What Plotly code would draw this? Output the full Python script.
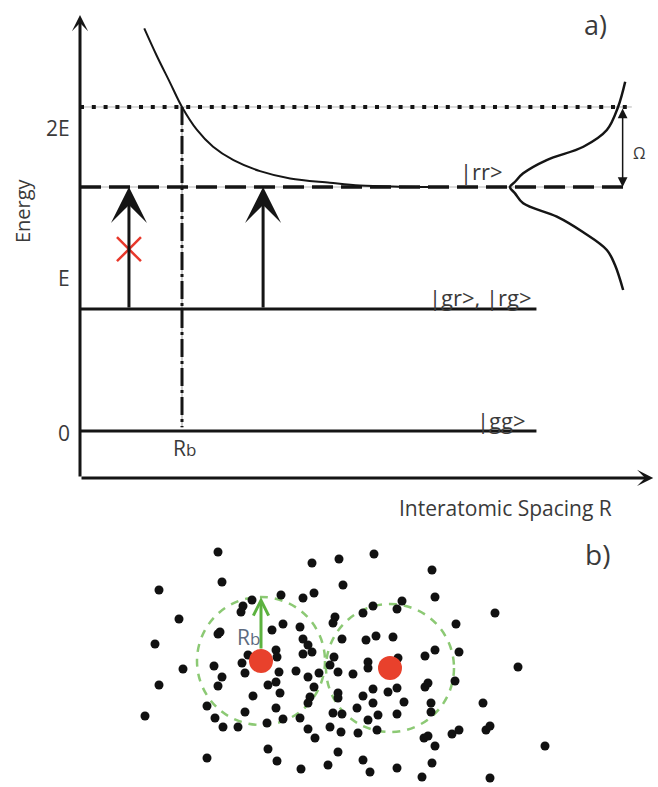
import plotly.graph_objects as go

# ---------------- Panel a) data (R in arbitrary units, energy in units of E) ----------------
E_GG, E_GR, E_RR = 0.0, 1.0, 2.0
OMEGA = 0.656
R_B = 2.0
LEVEL_END_R = 8.95
RR_END_R = 10.65
DOT_END_R = 10.82
AXIS_TOP_E = 3.41
AXIS_BOTTOM_E = -0.385
AXIS_END_R = 11.24
RB_LINE_BOTTOM_E = 0.03

curve_R = [1.26, 1.50, 1.76, 2.00, 2.29, 2.61, 3.01, 3.53, 4.12, 4.90, 5.49, 6.27, 7.06]
curve_E = [3.30, 3.08, 2.86, 2.656, 2.47, 2.33, 2.22, 2.13, 2.07, 2.035, 2.012, 2.003, 2.0]

profile_R = [10.69, 10.55, 10.33, 9.87, 9.15, 8.69, 8.53, 8.43, 8.53, 8.69, 9.35, 9.86, 10.33, 10.49, 10.65]
profile_E = [2.863, 2.656, 2.467, 2.33, 2.221, 2.112, 2.043, 2.0, 1.948, 1.866, 1.757, 1.631, 1.484, 1.36, 1.156]

excite_R = [0.96, 3.59]
blocked_R, blocked_E = 0.96, 1.49
omega_R = 10.64

# ---------------- Panel b) data (atom positions, arbitrary units; Rb = 64) ----------------
ryd_x = [0, 129]
ryd_y = [0, -7]
RB_B = 64

atom_x = [-43, 51, 78, 113, 171, -39, -102, 82, 20, 42, 53, 174, -18, -9, -20, 112, 141, 136,
          102, 234, -82, 74, 72, 22, 11, 39, 195, -43, -41, 42, 47, 51, 81, 105, 115, 132,
          -106, 198, 174, 164, 42, 15, 16, -13, -19, -47, -78, 73, 69, 257, 107, 107, 137,
          -16, -39, 18, 35, 47, 58, 77, 92, 194, -102, -43, 7, 15, 19, 53, 77, 77, 112, 127,
          136, 164, 167, -8, 49, 47, 102, 143, 170, 170, -54, 15, 96, 112, 222, -116, -16,
          72, 81, 117, 136, -46, 6, 22, 39, 107, -38, -23, 47, 69, 80, 97, 116, 163, 167,
          191, 198, 225, 229, 174, 54, 284, 7, -54, 77, 16, 102, 67, 40, 109, 136, 171, 161, 229]
atom_y = [109, 98, 102, 107, 91, 79, 71, 76, 66, 63, 68, 64, 55, 61, 49, 55, 60, 52,
          48, 48, 42, 44, 38, 37, 31, 34, 37, 27, 29, 22, 16, 9, 22, 21, 25, 24,
          17, 9, 11, 5, 7, 11, 4, 6, -2, -5, -8, 4, -4, -6, -1, -7, 3,
          -12, -16, -11, -10, -16, -12, -11, -13, -20, -24, -25, -24, -21, -32, -26, -32, -37, -28, -31,
          -27, -26, -22, -35, -36, -42, -35, -41, -42, -51, -45, -47, -47, -42, -42, -55, -51,
          -52, -53, -54, -53, -57, -62, -58, -57, -59, -66, -66, -68, -66, -71, -72, -69, -77, -75,
          -73, -69, -69, -65, -85, -77, -85, -88, -97, -91, -100, -99, -104, -108, -111, -107, -102, -116, -117]

# ---------------- canvas mapping (axes ranges) ----------------
W, H = 658, 787
PX_R, ORIG_X = 51.0, 80.0
PX_E, ORIG_Y = 122.0, 431.0
xr_a = [-ORIG_X / PX_R, (W - ORIG_X) / PX_R]
yr_a = [(ORIG_Y - H) / PX_E, ORIG_Y / PX_E]
xr_b = [-261, W - 261]
yr_b = [661 - H, 661]

BLACK = "#151515"
TXT = "#3a3a3a"
FONT = "Open Sans"

fig = go.Figure()

def line_a(x, y, width=3, dash="solid", color=BLACK, shape="linear"):
    fig.add_trace(go.Scatter(x=x, y=y, mode="lines", xaxis="x", yaxis="y",
                             line=dict(color=color, width=width, dash=dash, shape=shape),
                             hoverinfo="skip"))

# thin guide lines under dotted / dashed lines
line_a([0, DOT_END_R], [E_RR + OMEGA] * 2, width=1, color="#b5b5b5")
line_a([0, RR_END_R], [E_RR] * 2, width=1, color="#b5b5b5")
line_a([R_B, R_B], [RB_LINE_BOTTOM_E, E_RR + OMEGA], width=1, color="#9a9a9a")
# dotted 2E+Omega line
line_a([0, DOT_END_R], [E_RR + OMEGA] * 2, width=4, dash="4px,7.8px")
# dashed |rr> line
line_a([0, RR_END_R], [E_RR] * 2, width=3.5, dash="21px,8px")
# dash-dot Rb line
line_a([R_B, R_B], [E_RR + OMEGA, RB_LINE_BOTTOM_E], width=3, dash="18px,4px,3px,4px")
# levels
line_a([0, LEVEL_END_R], [E_GR] * 2, width=3)
line_a([0, LEVEL_END_R], [E_GG] * 2, width=3)
# interaction curve
line_a(curve_R, curve_E, width=2, shape="spline")
# line profile
line_a(profile_R, profile_E, width=2.5, shape="spline")
# blocked transition
fig.add_trace(go.Scatter(x=[blocked_R], y=[blocked_E], mode="markers", xaxis="x", yaxis="y",
                         marker=dict(symbol="x-thin", size=24, line=dict(color="#e8382b", width=2.5)),
                         hoverinfo="skip"))

# ---------------- panel b traces ----------------
fig.add_trace(go.Scatter(x=atom_x, y=atom_y, mode="markers", xaxis="x2", yaxis="y2",
                         marker=dict(color="#111111", size=9), hoverinfo="skip"))
fig.add_trace(go.Scatter(x=ryd_x, y=ryd_y, mode="markers", xaxis="x2", yaxis="y2",
                         marker=dict(color="#e8412c", size=24), hoverinfo="skip"))

shapes = []
for cx, cy in zip(ryd_x, ryd_y):
    shapes.append(dict(type="circle", xref="x2", yref="y2",
                       x0=cx - RB_B, x1=cx + RB_B, y0=cy - RB_B, y1=cy + RB_B,
                       line=dict(color="#8cc974", width=2.5, dash="8px,7px"), layer="below"))

ann = []
def arrow(x, y, ax, ay, xref="x", yref="y", **kw):
    d = dict(x=x, y=y, ax=ax, ay=ay, xref=xref, yref=yref, axref=xref, ayref=yref,
             text="", showarrow=True, standoff=0)
    d.update(kw)
    ann.append(d)

# axes arrows
arrow(0, AXIS_TOP_E, 0, AXIS_BOTTOM_E, arrowhead=3, arrowsize=0.9, arrowwidth=3, arrowcolor=BLACK)
arrow(AXIS_END_R, AXIS_BOTTOM_E, 0, AXIS_BOTTOM_E, arrowhead=3, arrowsize=0.9, arrowwidth=3, arrowcolor=BLACK)
# excitation arrows
for r in excite_R:
    arrow(r, E_RR, r, E_GR, arrowhead=3, arrowsize=2.0, arrowwidth=3, arrowcolor=BLACK)
# Omega double arrow
arrow(omega_R, E_RR, omega_R, E_RR + OMEGA, arrowhead=2, arrowsize=1.3, arrowwidth=1.5,
      arrowcolor=BLACK, arrowside="end+start", startarrowhead=2, startarrowsize=1.3)
# Rb arrow in panel b
arrow(ryd_x[0], ryd_y[0] + RB_B, ryd_x[0], ryd_y[0] + 11, xref="x2", yref="y2",
      arrowhead=5, arrowsize=1.0, arrowwidth=3, arrowcolor="#5cb23f")

def text(x, y, s, size=17, xanchor="center", yanchor="middle", color=TXT, xref="x", yref="y", **kw):
    d = dict(x=x, y=y, text=s, showarrow=False, xref=xref, yref=yref, xanchor=xanchor,
             yanchor=yanchor, font=dict(family=FONT, size=size, color=color))
    d.update(kw)
    ann.append(d)

text(10.1, 3.33, "a)", size=27)
text(-1.14, 1.81, "Energy", size=20, textangle=-90)
text(-0.16, 2.48, "2E", size=21, xanchor="right")
text(-0.16, 1.254, "E", size=21, xanchor="right")
text(-0.16, -0.016, "0", size=21, xanchor="right")
text(7.42, 2.13, "|rr>", size=22, xanchor="left")
text(8.9, 1.098, "|gr>, |rg>", size=22, xanchor="right")
text(8.78, 0.09, "|gg>", size=22, xanchor="right")
text(2.04, -0.139, "R<span style='font-size:17px'>b</span>", size=21)
text(8.35, -0.631, "Interatomic Spacing R", size=21)
text(10.98, 2.28, "Ω", size=16)

text(336, 107, "b)", size=28, xref="x2", yref="y2")
text(-13, 24, "R<span style='font-size:17px'>b</span>", size=21, color="#5d6b80", xref="x2", yref="y2")

ax_common = dict(visible=False, showgrid=False, zeroline=False, fixedrange=True, domain=[0, 1])
fig.update_layout(
    width=W, height=H, margin=dict(l=0, r=0, t=0, b=0),
    paper_bgcolor="white", plot_bgcolor="rgba(0,0,0,0)", showlegend=False,
    xaxis=dict(range=xr_a, anchor="y", **ax_common),
    yaxis=dict(range=yr_a, anchor="x", **ax_common),
    xaxis2=dict(range=xr_b, anchor="y2", **ax_common),
    yaxis2=dict(range=yr_b, anchor="x2", **ax_common),
    shapes=shapes, annotations=ann,
)

fig.write_html("out.html")
